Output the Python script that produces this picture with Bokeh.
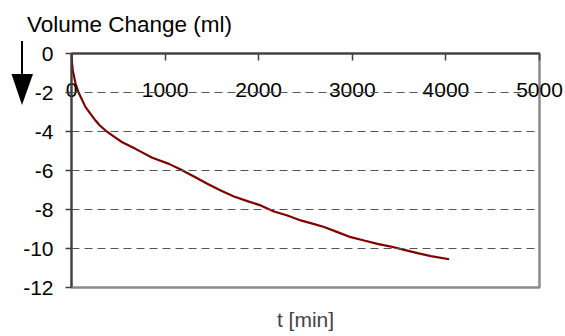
from bokeh.plotting import figure
from bokeh.layouts import row
from bokeh.models import Range1d, LinearAxis, FixedTicker, Span, Div
from bokeh.embed import file_html
from bokeh.resources import INLINE

# data
t_min = [0, 5, 14, 43, 78, 150, 257, 300, 364, 450, 542, 684, 863, 1041, 1166, 1308, 1451,
         1594, 1736, 1879, 2021, 2164, 2307, 2449, 2556, 2699, 2842, 2984, 3126,
         3269, 3412, 3554, 3697, 3840, 4035]
volume_ml = [0, -0.45, -0.87, -1.54, -2.03, -2.75, -3.44, -3.68, -3.95, -4.25, -4.55, -4.89,
             -5.35, -5.66, -5.95, -6.31, -6.68, -7.03, -7.33, -7.57, -7.79, -8.1, -8.31,
             -8.56, -8.7, -8.9, -9.16, -9.42, -9.59, -9.76, -9.9, -10.07, -10.24,
             -10.39, -10.55]
x_ticks = [0, 1000, 2000, 3000, 4000, 5000]
y_ticks = [0, -2, -4, -6, -8, -10, -12]
grid_levels = [-2, -4, -6, -8, -10]
y_title = "Volume Change (ml)"
x_title = "t [min]"

FONT = "Liberation Sans"

p = figure(frame_width=468, frame_height=234, output_backend="svg", toolbar_location=None,
           x_range=Range1d(0, 5000), y_range=Range1d(-12, 0),
           x_axis_location=None, y_axis_location=None,
           min_border_left=71, min_border_right=26, min_border_top=53, min_border_bottom=49)
p.grid.visible = False
p.outline_line_color = "#8c8c8c"
p.outline_line_width = 2.5
p.background_fill_color = "white"
p.border_fill_color = "white"
p.margin = 0

for g in grid_levels:
    p.add_layout(Span(location=g, dimension="width", line_color="#555555",
                      line_width=1, line_dash="8 5"))

p.line(t_min, volume_ml, line_color="#800000", line_width=2.2)

# left axis
yax = LinearAxis(ticker=FixedTicker(ticks=y_ticks))
yax.major_label_overrides = {v: str(v) for v in y_ticks}
yax.major_tick_out = 6
yax.major_tick_in = 0
yax.minor_tick_out = 0
yax.minor_tick_in = 0
yax.major_label_standoff = 12
yax.axis_line_color = "#404040"
yax.axis_line_width = 2
yax.major_tick_line_color = "#404040"
yax.major_tick_line_width = 1.5
yax.major_label_text_font = FONT
yax.major_label_text_font_size = "21px"
yax.major_label_text_color = "black"
p.add_layout(yax, "left")

# top axis with labels drawn inside the frame
xax = LinearAxis(ticker=FixedTicker(ticks=x_ticks))
xax.major_label_overrides = {v: str(v) for v in x_ticks}
xax.major_tick_out = 0
xax.major_tick_in = 7
xax.minor_tick_out = 0
xax.minor_tick_in = 0
xax.major_label_standoff = -43
xax.axis_line_color = "#404040"
xax.axis_line_width = 2
xax.major_tick_line_color = "#404040"
xax.major_tick_line_width = 1.5
xax.major_label_text_font = FONT
xax.major_label_text_font_size = "21px"
xax.major_label_text_color = "black"
p.add_layout(xax, "above")

# bottom axis title
bax = LinearAxis(ticker=FixedTicker(ticks=[]))
bax.axis_line_color = None
bax.major_tick_line_color = None
bax.minor_tick_line_color = None
bax.major_label_text_font_size = "0px"
bax.axis_label = x_title
bax.axis_label_text_font = FONT
bax.axis_label_text_font_size = "21px"
bax.axis_label_text_font_style = "normal"
bax.axis_label_standoff = 20
p.add_layout(bax, "below")

# transparent overlay for the y title and the downward arrow
overlay_html = (
    '<div style="position:relative;width:565px;height:336px;">'
    '<span style="position:absolute;left:27px;top:14px;white-space:nowrap;'
    "font-family:'Liberation Sans';font-size:22.5px;line-height:22px;color:black;\">"
    + y_title +
    '</span>'
    '<svg style="position:absolute;left:0;top:0;" width="565" height="336">'
    '<line x1="22" y1="41" x2="22" y2="78" stroke="black" stroke-width="2"/>'
    '<polygon points="11.5,74 33,74 22,105" fill="black"/>'
    '</svg></div>'
)
ov = Div(text=overlay_html, width=565, height=336, margin=(0, 0, 0, -565))

layout = row(p, ov)
open("out.html", "w").write(file_html(layout, INLINE))
